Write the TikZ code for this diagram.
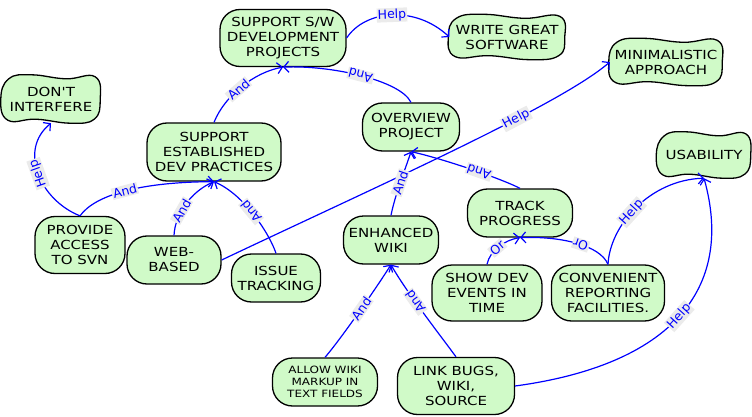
\documentclass[tikz,border=0pt]{standalone}
\usepackage{fontspec}
\newfontfamily\goalfont{DejaVu Sans}[FakeStretch=1.2]
\newfontfamily\linkfont{DejaVu Sans}
\usetikzlibrary{arrows.meta,backgrounds,calc}
\definecolor{goalgreen}{RGB}{208,250,200}
\tikzset{
  goal/.style={draw, line width=1.3pt, fill=goalgreen, rounded corners=20pt,
    align=center, font=\goalfont\fontsize{12.5}{15}\selectfont,
    inner xsep=5pt, minimum height=48pt},
  soft/.style={align=center, font=\goalfont\fontsize{12.5}{15}\selectfont},
  softline/.style={draw, line width=1.3pt, fill=goalgreen},
  link/.style={draw=blue, line width=1.2pt, -{Straight Barb[length=5pt,width=11pt]}},
  lbl/.style={font=\linkfont\fontsize{12.5}{12.5}\selectfont, text=blue, fill=gray!16,
    inner sep=1pt, sloped, allow upside down}
}
\begin{document}
\begin{tikzpicture}[x=1pt,y=-1pt]
      \useasboundingbox (0,0) rectangle (752,417);
      % goals
      \node[goal, minimum width=126pt, minimum height=57pt] (ssw) at (283,38) {SUPPORT S/W\\DEVELOPMENT\\PROJECTS};
      \node[goal, minimum width=134pt, minimum height=58pt] (sedp) at (214,152) {SUPPORT\\ESTABLISHED\\DEV PRACTICES};
      \node[goal, minimum width=97pt] (op) at (411,127) {OVERVIEW\\PROJECT};
      \node[goal, minimum width=90pt, minimum height=57pt] (pa) at (80,245) {PROVIDE\\ACCESS\\TO SVN};
      \node[goal, minimum width=94pt] (wb) at (174,260) {WEB-\\BASED};
      \node[goal, minimum width=89pt] (it) at (276,278) {ISSUE\\TRACKING};
      \node[goal, minimum width=94pt] (ew) at (391,240) {ENHANCED\\WIKI};
      \node[goal, minimum width=105pt] (tp) at (520,213) {TRACK\\PROGRESS};
      \node[goal, minimum width=110pt, minimum height=56pt] (sde) at (487,293) {SHOW DEV\\EVENTS IN\\TIME};
      \node[goal, minimum width=113pt, minimum height=56pt] (crf) at (608,293) {CONVENIENT\\REPORTING\\FACILITIES.};
      \node[goal, minimum width=105pt, font=\goalfont\fontsize{10}{12}\selectfont] (awm) at (325,382) {ALLOW WIKI\\MARKUP IN\\TEXT FIELDS};
      \node[goal, minimum width=117pt, minimum height=57pt] (lb) at (456,386) {LINK BUGS,\\WIKI,\\SOURCE};
      % soft goals
      \node[soft, minimum width=115pt, minimum height=45pt] (write) at (507,37) {WRITE GREAT\\SOFTWARE};
      \node[soft, minimum width=112pt, minimum height=47pt] (mini) at (666,62) {MINIMALISTIC\\APPROACH};
      \node[soft, minimum width=98pt, minimum height=48pt] (dont) at (51,99) {DON'T\\INTERFERE};
      \node[soft, minimum width=93pt, minimum height=46pt] (usab) at (704,155) {USABILITY};
      \begin{pgfonlayer}{background}
        \foreach \n in {write,mini,dont,usab}
          \draw[softline] plot[smooth cycle, tension=0.75] coordinates {
            ($(\n.west)+(-1,0)$) ($(\n.north west)+(7,4)$)
            ($(\n.north west)!0.3!(\n.north east)+(0,0)$) ($(\n.north west)!0.65!(\n.north east)+(0,4)$)
            ($(\n.north east)+(-5,2)$) ($(\n.east)+(0,1)$) ($(\n.south east)+(-6,-4)$)
            ($(\n.south west)!0.7!(\n.south east)+(0,0)$) ($(\n.south west)!0.35!(\n.south east)+(0,-4)$)
            ($(\n.south west)+(6,-3)$)};
      \end{pgfonlayer}
      % links
      \draw[link] (ssw.east) .. controls (365,10) and (415,5) .. node[lbl, pos=0.5]{Help} (write.west);
      \draw[link] (sedp.north) .. controls (225,95) and (255,72) .. node[lbl, pos=0.45]{And} (ssw.south);
      \draw[link] (op.north) .. controls (400,80) and (330,65) .. node[lbl, pos=0.5]{And} (ssw.south);
      \draw[link] (pa.north) .. controls (40,200) and (18,150) .. node[lbl, pos=0.5]{Help} (dont.south);
      \draw[link] (pa.north) .. controls (95,195) and (140,182) .. node[lbl, pos=0.5]{And} (sedp.south);
      \draw[link] (wb.north) .. controls (175,215) and (190,192) .. node[lbl, pos=0.4]{And} (sedp.south);
      \draw[link] (it.north) .. controls (270,235) and (245,195) .. node[lbl, pos=0.55]{And} (sedp.south);
      \draw[link] (wb.east) .. controls (380,185) and (560,105) .. node[lbl, pos=0.65]{Help} (mini.west);
      \draw[link] (ew.north) .. controls (395,195) and (405,170) .. node[lbl, pos=0.5]{And} (op.south);
      \draw[link] (tp.north) .. controls (500,178) and (440,158) .. node[lbl, pos=0.42]{And} (op.south);
      \draw[link] (sde.north) .. controls (490,250) and (505,240) .. node[lbl, pos=0.45]{Or} (tp.south);
      \draw[link] (crf.north) .. controls (600,245) and (560,236) .. node[lbl, pos=0.45]{Or} (tp.south);
      \draw[link] (crf.north) .. controls (610,225) and (650,180) .. node[lbl, pos=0.45]{Help} (usab.south);
      \draw[link] (lb.east) .. controls (670,365) and (735,290) .. node[lbl, pos=0.5]{Help} (usab.south);
      \draw[link] (awm.north) .. controls (340,340) and (375,290) .. node[lbl, pos=0.55]{And} (ew.south);
      \draw[link] (lb.north) .. controls (440,335) and (405,290) .. node[lbl, pos=0.6]{And} (ew.south);
    \end{tikzpicture}
\end{document}
